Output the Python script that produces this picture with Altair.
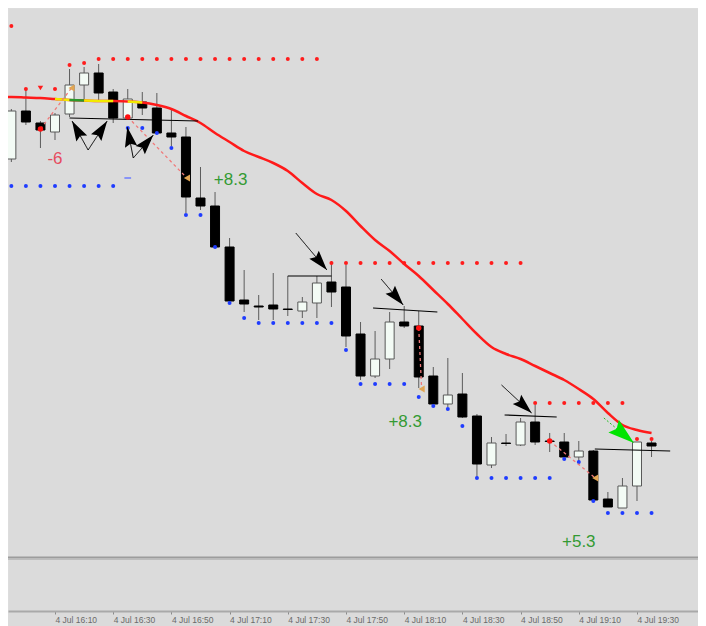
import math
import altair as alt
import pandas as pd

DAY = "2024-07-04"

# ---------------- data ----------------
times = ["15:50", "15:55", "16:00", "16:05", "16:10", "16:15", "16:20", "16:25", "16:30", "16:35",
         "16:40", "16:45", "16:50", "16:55", "17:00", "17:05", "17:10", "17:15", "17:20", "17:25",
         "17:30", "17:35", "17:40", "17:45", "17:50", "17:55", "18:00", "18:05", "18:10", "18:15",
         "18:20", "18:25", "18:30", "18:35", "18:40", "18:45", "18:50", "18:55", "19:00", "19:05",
         "19:10", "19:15", "19:20", "19:25", "19:30", "19:35"]

open_ = [85.8, 79.4, 89.0, 86.6, 84.8, 88.4, 94.2, 96.6, 92.8, 87.6,
         90.8, 89.6, 84.6, 83.8, 71.6, 70.0, 61.8, 51.2, 50.0, 50.2,
         49.4, 49.0, 50.6, 54.8, 53.8, 44.4, 36.0, 39.4, 46.8, 46.0,
         36.0, 30.4, 32.4, 28.0, 18.2, 22.6, 22.2, 26.8, 23.0, 22.8,
         19.8, 21.0, 11.4, 9.6, 14.0, 22.6]
high = [86.4, 89.4, 93.2, 87.0, 88.6, 97.4, 97.8, 98.4, 93.4, 93.4,
        92.8, 92.6, 89.2, 85.8, 77.8, 72.8, 63.6, 57.2, 52.2, 56.6,
        56.0, 51.8, 56.0, 59.0, 58.2, 46.8, 45.0, 48.8, 50.0, 49.0,
        37.8, 39.6, 36.6, 28.4, 23.8, 24.4, 27.6, 30.2, 24.6, 24.6,
        23.0, 21.2, 12.8, 15.6, 22.8, 23.0]
low = [79.2, 78.8, 86.2, 81.6, 83.2, 87.8, 91.2, 91.2, 86.6, 87.2,
       88.2, 84.4, 82.0, 68.6, 69.2, 61.6, 50.6, 48.8, 47.2, 47.2,
       48.0, 47.6, 47.6, 49.8, 41.8, 35.2, 35.6, 37.4, 45.6, 33.6,
       30.2, 29.8, 27.6, 15.8, 17.6, 22.0, 22.0, 22.2, 20.8, 19.6,
       18.2, 11.2, 9.8, 9.6, 11.0, 19.8]
close = [79.6, 89.0, 86.8, 85.2, 88.2, 94.2, 96.6, 92.6, 87.6, 91.4,
         89.6, 84.6, 83.8, 71.8, 70.0, 61.8, 51.0, 50.4, 49.8, 49.4,
         49.3, 50.8, 54.6, 52.8, 44.0, 36.0, 39.4, 46.8, 46.0, 35.8,
         30.4, 32.2, 27.8, 18.4, 22.6, 22.5, 26.8, 22.8, 22.9, 19.8,
         21.0, 11.2, 9.8, 14.0, 22.8, 22.0]

# moving average (red line)
ma = [91.8, 91.8, 91.7, 91.6, 91.4, 91.2, 91.1, 91.0, 91.0, 90.9,
      90.7, 90.2, 89.4, 88.0, 86.6, 84.6, 82.8, 81.0, 79.8, 78.6,
      77.0, 74.6, 72.4, 71.2, 69.0, 66.0, 63.2, 61.0, 58.4, 56.0,
      53.2, 50.4, 47.4, 44.4, 41.8, 40.4, 39.4, 38.0, 36.6, 35.2,
      33.4, 31.4, 28.6, 26.2, 25.2, 24.6]
# coloured stretches of the moving average
ma_hl_start = ["16:10", "16:15", "16:20", "16:35"]
ma_hl_end = ["16:15", "16:20", "16:30", "16:40"]
ma_hl_color = ["#f2ea00", "#2a9a2a", "#f2ea00", "#f2ea00"]

# resistance dots (red) and support dots (blue)
N = None
res_dots = [N, 106.0, 93.4, N, 93.4, 98.2, 98.6] + [99.4] * 16 + [58.6] * 14 + [30.6] * 7 + [23.4, 23.4]
sup_dots = ([N] + [74.0] * 8 + [85.6, 85.6, 84.6, 81.6, 68.2, 68.2, 61.8, 50.6, 47.6] + [46.6] * 6
            + [41.2] + [34.4] * 4 + [31.8, 30.0, 29.4, 26.0] + [15.6] * 6 + [19.4, 18.8, 11.0] + [8.6] * 4)
fractal_down_t = ["16:05"]
fractal_down_p = [93.6]
blue_dash_t = ["16:35"]
blue_dash_p = [75.6]

# trades
entry_t = ["16:05:00", "16:35:00", "18:15:00", "19:00:00"]
entry_p = [85.4, 87.8, 45.6, 23.0]
exit_t = ["16:15:40", "16:55:20", "18:16:00", "19:15:40"]
exit_p = [93.6, 75.6, 33.4, 15.6]
result_text = ["-6", "+8.3", "+8.3", "+5.3"]
result_t = ["16:10:00", "17:10:20", "18:10:20", "19:10:00"]
result_p = [79.4, 75.3, 26.9, 2.9]
result_color = ["#e64c5e", "#339a33", "#339a33", "#339a33"]

# drawn horizontal lines
tl_t1 = ["16:15:00", "17:30:00", "17:59:18", "18:44:30", "19:15:30"]
tl_p1 = [87.6, 56.0, 49.6, 28.2, 21.4]
tl_t2 = ["16:59:10", "17:45:00", "18:21:24", "19:02:24", "19:41:24"]
tl_p2 = [87.0, 56.0, 48.8, 27.8, 21.0]

# drawn arrows (tail -> head)
arr_tail_t = ["16:21:23", "16:21:23", "16:36:54", "16:36:54", "17:32:45", "18:02:04", "18:43:27", "19:18:37"]
arr_tail_p = [81.2, 81.2, 79.6, 79.6, 64.6, 55.4, 34.2, 27.6]
arr_head_t = ["16:15:52", "16:27:56", "16:34:50", "16:43:48", "17:43:27", "18:09:40", "18:53:48", "19:28:58"]
arr_head_p = [87.0, 87.0, 85.8, 84.2, 57.2, 50.2, 28.6, 22.6]
arr_kind = ["black"] * 7 + ["green"]

axis_ticks = ["16:10", "16:30", "16:50", "17:10", "17:30", "17:50", "18:10", "18:30", "18:50", "19:10", "19:30"]

# ---------------- layout / style ----------------
W, H = 690, 603
X_START = (15, 53, 51)
X_END = (19, 50, 58)
Y_DOMAIN = [-11.0, 109.6]
BG = "#dbdbdb"


def ts(hm):
    return f"{DAY}T{hm}:00" if len(hm) == 5 else f"{DAY}T{hm}"


def minutes(hm):
    p = [int(v) for v in hm.split(":")]
    while len(p) < 3:
        p.append(0)
    return p[0] * 60 + p[1] + p[2] / 60.0


def dt(h, m, s=0):
    return alt.DateTime(year=2024, month=7, date=4, hours=h, minutes=m, seconds=s)


px_per_min = W / (minutes("%d:%d:%d" % X_END) - minutes("%d:%d:%d" % X_START))
px_per_unit = H / (Y_DOMAIN[1] - Y_DOMAIN[0])

xscale = alt.Scale(domain=[dt(*X_START), dt(*X_END)], padding=0, nice=False)
yscale = alt.Scale(domain=Y_DOMAIN, nice=False, zero=False, padding=0)
xaxis = alt.Axis(
    title=None, format="%-d %b %H:%M",
    values=[dt(int(v[:2]), int(v[3:])) for v in axis_ticks],
    labelAlign="left", labelFlush=False, labelOverlap=False, labelBound=False,
    labelFontSize=8.5, labelColor="#6a6a6a", labelPadding=1, labelFont="Liberation Sans",
    tickSize=3, tickColor="#8a8a8a", domainColor="#a9a9a9", domainWidth=2, grid=False,
)


def X(field="t"):
    return alt.X(f"{field}:T", scale=xscale, axis=xaxis)


def Y(field):
    return alt.Y(f"{field}:Q", scale=yscale, axis=None)


# ---------------- tables ----------------
cdf = pd.DataFrame({"t": [ts(v) for v in times], "open": open_, "high": high, "low": low, "close": close})
up = cdf["close"] >= cdf["open"]
cdf["fill"] = ["#f3fbf5" if u else "#000000" for u in up]
cdf["stroke"] = ["#585858" if u else "#000000" for u in up]

madf = pd.DataFrame({"t": [ts(v) for v in times], "ma": ma, "m": [minutes(v) for v in times]})
hl_rows = []
for i, (a, b, c) in enumerate(zip(ma_hl_start, ma_hl_end, ma_hl_color)):
    sub = madf[(madf["m"] >= minutes(a)) & (madf["m"] <= minutes(b))]
    for _, r in sub.iterrows():
        hl_rows.append({"t": r["t"], "ma": r["ma"], "seg": i, "col": c})
hldf = pd.DataFrame(hl_rows)

resdf = pd.DataFrame([{"t": ts(t), "p": p} for t, p in zip(times, res_dots) if p is not None])
supdf = pd.DataFrame([{"t": ts(t), "p": p} for t, p in zip(times, sup_dots) if p is not None])
fddf = pd.DataFrame({"t": [ts(v) for v in fractal_down_t], "p": fractal_down_p})
bddf = pd.DataFrame({"t": [ts(v) for v in blue_dash_t], "p": blue_dash_p})

trdf = pd.DataFrame({"t": [ts(v) for v in entry_t], "p": entry_p,
                     "t2": [ts(v) for v in exit_t], "p2": exit_p})
exdf = pd.DataFrame({"t": [ts(v) for v in exit_t], "p": exit_p})
lbdf = pd.DataFrame({"t": [ts(v) for v in result_t], "p": result_p, "txt": result_text, "col": result_color})
tldf = pd.DataFrame({"t": [ts(v) for v in tl_t1], "p": tl_p1, "t2": [ts(v) for v in tl_t2], "p2": tl_p2})

arr_rows = []
for tt, tp, ht, hp, k in zip(arr_tail_t, arr_tail_p, arr_head_t, arr_head_p, arr_kind):
    dx = (minutes(ht) - minutes(tt)) * px_per_min
    dy = -(hp - tp) * px_per_unit
    ang = math.degrees(math.atan2(dx, -dy)) % 360
    arr_rows.append({"t": ts(tt), "p": tp, "t2": ts(ht), "p2": hp, "ang": ang,
                     "col": "#000000" if k == "black" else "#00e400",
                     "shaft": "#000000" if k == "black" else "#22c022",
                     "sz": 400 if k == "black" else 700, "kind": k})
ardf = pd.DataFrame(arr_rows)
ARROW = "M0,0L-0.62,2L0,1.7L0.62,2Z"

# ---------------- layers ----------------
wicks = alt.Chart(cdf).mark_rule(color="#5c5c5c", strokeWidth=1).encode(x=X(), y=Y("low"), y2="high:Q")
bodies = alt.Chart(cdf).mark_bar(size=9, strokeWidth=1).encode(
    x=X(), y=Y("open"), y2="close:Q",
    fill=alt.Color("fill:N", scale=None), stroke=alt.Color("stroke:N", scale=None))

res_pts = alt.Chart(resdf).mark_circle(size=16, color="#ff1c1c", opacity=1).encode(x=X(), y=Y("p"))
sup_pts = alt.Chart(supdf).mark_circle(size=16, color="#1f3cff", opacity=1).encode(x=X(), y=Y("p"))
fd_pts = alt.Chart(fddf).mark_point(shape="triangle-down", filled=True, size=30, color="#ff1c1c",
                                    opacity=1).encode(x=X(), y=Y("p"))
bd_pts = alt.Chart(bddf).mark_point(shape="stroke", size=45, strokeWidth=1.5, color="#6c7cff",
                                    opacity=1).encode(x=X(), y=Y("p"))

ma_line = alt.Chart(madf).mark_line(color="#ff1a1a", strokeWidth=2.5, interpolate="monotone",
                                     clip=True).encode(x=X(), y=Y("ma"))
ma_hl = alt.Chart(hldf).mark_line(strokeWidth=2.5, clip=True).encode(
    x=X(), y=Y("ma"), detail="seg:N", color=alt.Color("col:N", scale=None))

tlines = alt.Chart(tldf).mark_rule(color="#000000", strokeWidth=1.2).encode(
    x=X(), y=Y("p"), x2="t2:T", y2="p2:Q")
trade_lines = alt.Chart(trdf).mark_rule(color="#f07a7a", strokeWidth=1.3, strokeDash=[3, 3]).encode(
    x=X(), y=Y("p"), x2="t2:T", y2="p2:Q")
entries = alt.Chart(trdf).mark_circle(size=30, color="#ff1010", opacity=1).encode(x=X(), y=Y("p"))
exits = alt.Chart(exdf).mark_point(shape="triangle-left", filled=True, size=50, color="#e2a552",
                                   opacity=1).encode(x=X(), y=Y("p"))

shafts = alt.Chart(ardf).mark_rule(strokeWidth=1).encode(
    x=X(), y=Y("p"), x2="t2:T", y2="p2:Q", color=alt.Color("shaft:N", scale=None),
    strokeDash=alt.StrokeDash("kind:N", scale=alt.Scale(domain=["black", "green"], range=[[1, 0], [2, 2]]),
                              legend=None))
heads = alt.Chart(ardf).mark_point(shape=ARROW, filled=True, opacity=1, strokeWidth=0).encode(
    x=X("t2"), y=Y("p2"), angle=alt.Angle("ang:Q", scale=None),
    size=alt.Size("sz:Q", scale=None), color=alt.Color("col:N", scale=None))

labels = alt.Chart(lbdf).mark_text(fontSize=17, font="Liberation Sans", baseline="middle",
                                   align="center").encode(
    x=X(), y=Y("p"), text="txt:N", color=alt.Color("col:N", scale=None))

sep_base = alt.Chart(pd.DataFrame({"k": [0]}))
sep1 = sep_base.mark_rule(color="#9c9c9c", strokeWidth=2).encode(
    x=alt.value(0), x2=alt.value(W), y=alt.value(549.5))
sep2 = sep_base.mark_rule(color="#bdbdbd", strokeWidth=1).encode(
    x=alt.value(0), x2=alt.value(W), y=alt.value(551.5))

chart = alt.layer(
    wicks, bodies, res_pts, sup_pts, fd_pts, bd_pts, ma_line, ma_hl,
    tlines, trade_lines, entries, exits, shafts, heads, labels, sep1, sep2,
).properties(
    width=W, height=H, background=BG,
    autosize=alt.AutoSizeParams(type="none"),
    padding={"left": 0, "top": 0, "right": 0, "bottom": 24},
).configure_view(stroke=None, fill=BG).configure(font="Liberation Sans")

chart.save("out.html", embed_options={"renderer": "svg", "actions": False})
